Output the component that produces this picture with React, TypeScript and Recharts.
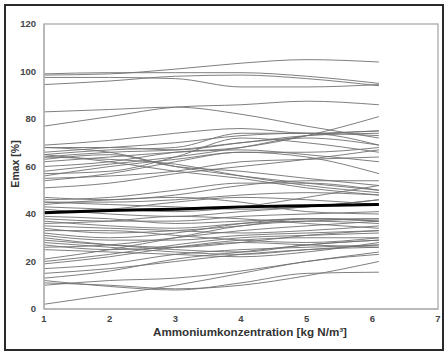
import React from 'react';
import { LineChart, Line, XAxis, YAxis, Label, ReferenceArea } from 'recharts';

// Ammonium concentration sample points [kg N/m³]
const ammonium = [1, 2, 3, 4, 5, 6.1];

// Emax [%] per simulation run, one entry per ammonium point
const upperRuns: number[][] = [
    [98.5, 99, 101, 103.5, 105, 104],
    [99, 99.5, 99.5, 99.5, 98, 95],
    [97.5, 97.5, 97, 93.5, 93.5, 94.5],
    [94.5, 96, 98, 98.5, 97, 94],
    [83, 84, 85, 82, 77, 72],
    [77, 81, 85, 86, 87.5, 86],
];

const middleRuns: number[][] = [
    [69, 71, 74, 76, 74, 75],
    [68, 68, 67, 70, 73, 74],
    [66, 68, 70, 73, 74, 73],
    [65, 67, 68, 74, 74, 69],
    [64, 66, 67, 70, 72, 69],
    [62, 64, 66, 67, 65, 62],
    [60, 62, 66, 68, 73, 81],
    [58, 61, 64, 68, 73, 75],
    [57, 58, 64, 72, 70, 66],
    [56, 60, 63, 66, 64, 57],
    [55, 56, 58, 62, 63, 64],
    [54, 57, 62, 66, 66, 68],
    [51, 53, 57, 60, 63, 67],
    [68, 66, 60, 56, 53, 50],
    [65, 62, 58, 55, 51, 48],
    [64, 63, 61, 56, 52, 49],
    [63, 65, 60, 58, 55, 52],
    [47, 46, 48, 52, 54, 54],
    [46, 47, 50, 53, 53, 50],
    [45, 45, 46, 48, 49, 48],
    [45, 44, 43, 42, 43, 46],
    [44, 46, 47, 45, 41, 40],
    [43, 42, 41, 43, 47, 52],
    [42, 40, 39, 41, 43, 46],
    [41, 42, 45, 47, 46, 44],
];

const lowerRuns: number[][] = [
    [39, 38, 36, 37, 38, 37],
    [38, 37, 37, 39, 40, 41],
    [37, 35, 34, 36, 37, 36],
    [36, 37, 39, 38, 36, 34],
    [35, 34, 33, 32, 33, 35],
    [34, 32, 33, 35, 38, 38],
    [33, 33, 31, 29, 28, 30],
    [32, 30, 32, 36, 38, 37],
    [31, 29, 29, 31, 32, 33],
    [30, 27, 25, 24, 27, 29],
    [29, 27, 26, 28, 31, 33],
    [28, 26, 24, 23, 25, 27],
    [27, 25, 26, 28, 27, 26],
    [26, 27, 30, 33, 35, 37],
    [25, 24, 23, 22, 24, 28],
    [21, 25, 30, 35, 37, 38],
    [20, 23, 27, 30, 31, 32],
    [19, 22, 26, 29, 30, 30],
    [17, 19, 23, 25, 26, 27],
    [15, 17, 20, 23, 25, 26],
    [13, 16, 21, 24, 27, 29],
    [12, 9.5, 8, 11, 15, 15.5],
    [11, 10, 8.5, 10, 14, 20],
    [10, 12, 13, 16, 20, 24],
    [2, 6, 10, 15, 20, 23],
];

// mean over all runs (thick line)
const meanRun = [40.5, 41.5, 42, 43, 43.5, 44];

const xTicks = [1, 2, 3, 4, 5, 6, 7];
const yTicks = [0, 20, 40, 60, 80, 100, 120];

const runs = [...upperRuns, ...middleRuns, ...lowerRuns];

const data = ammonium.map((x, i) => {
    const row: Record<string, number> = { x, mean: meanRun[i] };
    runs.forEach((r, k) => {
        row[`r${k}`] = r[i];
    });
    return row;
});

const frame = '#b5b5b5';
const font = 'Liberation Sans, Arial, sans-serif';
const tickFont = { fontSize: 9.5, fontWeight: 700, fill: '#444', fontFamily: font };

export default function App() {
    return (
        <div style={{ position: 'absolute', left: 0, top: 0, width: 446, height: 352, background: '#fff' }}>
            <LineChart
                width={446}
                height={352}
                data={data}
                margin={{ top: 24, right: 8, bottom: 13, left: 8 }}
            >
                <XAxis
                    dataKey="x"
                    type="number"
                    domain={[1, 7]}
                    ticks={xTicks}
                    height={30}
                    stroke={frame}
                    strokeWidth={1.5}
                    tickLine={false}
                    tickMargin={0}
                    tick={tickFont}
                >
                    <Label
                        content={() => (
                            <text
                                x={250}
                                y={336}
                                textAnchor="middle"
                                textLength={194}
                                lengthAdjust="spacingAndGlyphs"
                                style={{ fontSize: 10.5, fontWeight: 700, fill: '#333', fontFamily: font }}
                            >
                                Ammoniumkonzentration [kg N/m³]
                            </text>
                        )}
                    />
                </XAxis>
                <YAxis
                    type="number"
                    domain={[0, 120]}
                    ticks={yTicks}
                    width={36}
                    stroke={frame}
                    strokeWidth={1.5}
                    tickLine={false}
                    tickMargin={2}
                    tick={tickFont}
                >
                    <Label
                        content={() => (
                            <text
                                x={19}
                                y={164}
                                textAnchor="middle"
                                transform="rotate(-90 19 164)"
                                style={{ fontSize: 10.5, fontWeight: 700, fill: '#333', fontFamily: font }}
                            >
                                Emax [%]
                            </text>
                        )}
                    />
                </YAxis>
                <ReferenceArea
                    x1={1}
                    x2={7}
                    y1={0}
                    y2={120}
                    fill="none"
                    fillOpacity={0}
                    stroke={frame}
                    strokeWidth={1.5}
                    ifOverflow="visible"
                />
                {runs.map((_, k) => (
                    <Line
                        key={k}
                        dataKey={`r${k}`}
                        type="monotone"
                        stroke="#707070"
                        strokeWidth={0.9}
                        dot={false}
                        activeDot={false}
                        isAnimationActive={false}
                    />
                ))}
                <Line
                    dataKey="mean"
                    type="monotone"
                    stroke="#000"
                    strokeWidth={3}
                    dot={false}
                    activeDot={false}
                    isAnimationActive={false}
                />
            </LineChart>
            <div
                style={{
                    position: 'absolute',
                    left: 4,
                    top: 4,
                    width: 440,
                    height: 347,
                    border: '2px solid #2a2a2a',
                    boxSizing: 'border-box',
                    pointerEvents: 'none',
                }}
            />
        </div>
    );
}
